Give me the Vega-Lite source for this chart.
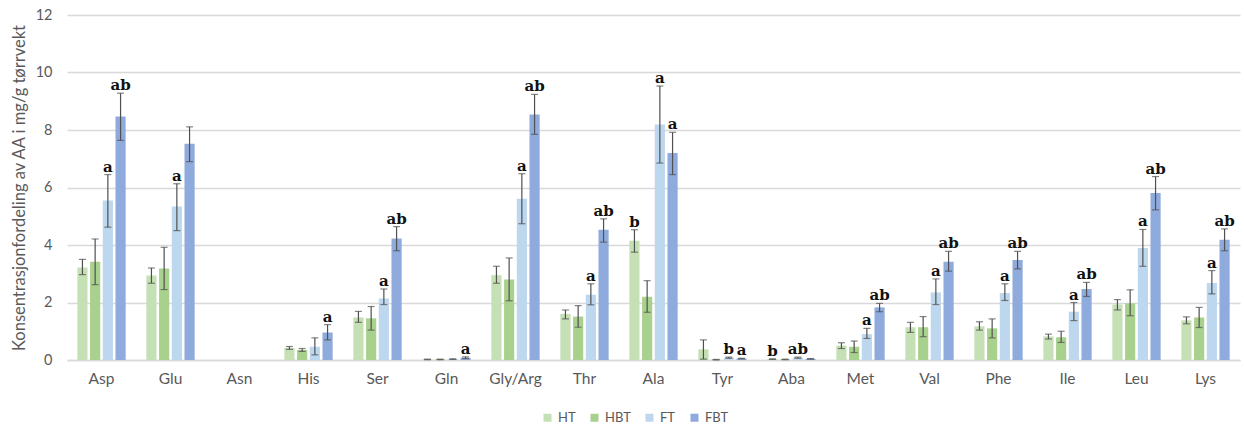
{
  "$schema": "https://vega.github.io/schema/vega-lite/v6.json",
  "width": 1173,
  "height": 345,
  "autosize": {"type": "none"},
  "padding": {"left": 67, "top": 15, "right": 4, "bottom": 65},
  "background": "white",
  "config": {"view": {"stroke": null}, "font": "Lato"},
  "data": {"values": [
    {"aa":"Asp","g":"HT","v":3.22,"lo":2.97,"hi":3.50,"lab":""},
    {"aa":"Asp","g":"HBT","v":3.42,"lo":2.62,"hi":4.21,"lab":""},
    {"aa":"Asp","g":"FT","v":5.55,"lo":4.62,"hi":6.45,"lab":"a"},
    {"aa":"Asp","g":"FBT","v":8.47,"lo":7.64,"hi":9.28,"lab":"ab"},
    {"aa":"Glu","g":"HT","v":2.94,"lo":2.67,"hi":3.20,"lab":""},
    {"aa":"Glu","g":"HBT","v":3.18,"lo":2.45,"hi":3.92,"lab":""},
    {"aa":"Glu","g":"FT","v":5.34,"lo":4.50,"hi":6.13,"lab":"a"},
    {"aa":"Glu","g":"FBT","v":7.52,"lo":6.90,"hi":8.11,"lab":""},
    {"aa":"Asn","g":"HT","v":0,"lo":null,"hi":null,"lab":""},
    {"aa":"Asn","g":"HBT","v":0,"lo":null,"hi":null,"lab":""},
    {"aa":"Asn","g":"FT","v":0,"lo":null,"hi":null,"lab":""},
    {"aa":"Asn","g":"FBT","v":0,"lo":null,"hi":null,"lab":""},
    {"aa":"His","g":"HT","v":0.42,"lo":0.37,"hi":0.47,"lab":""},
    {"aa":"His","g":"HBT","v":0.35,"lo":0.30,"hi":0.40,"lab":""},
    {"aa":"His","g":"FT","v":0.46,"lo":0.18,"hi":0.77,"lab":""},
    {"aa":"His","g":"FBT","v":0.96,"lo":0.70,"hi":1.23,"lab":"a"},
    {"aa":"Ser","g":"HT","v":1.48,"lo":1.31,"hi":1.69,"lab":""},
    {"aa":"Ser","g":"HBT","v":1.45,"lo":1.04,"hi":1.86,"lab":""},
    {"aa":"Ser","g":"FT","v":2.14,"lo":1.93,"hi":2.47,"lab":"a"},
    {"aa":"Ser","g":"FBT","v":4.23,"lo":3.80,"hi":4.64,"lab":"ab"},
    {"aa":"Gln","g":"HT","v":0.02,"lo":0.01,"hi":0.03,"lab":""},
    {"aa":"Gln","g":"HBT","v":0.02,"lo":0.01,"hi":0.03,"lab":""},
    {"aa":"Gln","g":"FT","v":0.03,"lo":0.02,"hi":0.04,"lab":""},
    {"aa":"Gln","g":"FBT","v":0.08,"lo":0.05,"hi":0.11,"lab":"a"},
    {"aa":"Gly/Arg","g":"HT","v":2.95,"lo":2.67,"hi":3.26,"lab":""},
    {"aa":"Gly/Arg","g":"HBT","v":2.80,"lo":2.06,"hi":3.55,"lab":""},
    {"aa":"Gly/Arg","g":"FT","v":5.61,"lo":4.74,"hi":6.48,"lab":"a"},
    {"aa":"Gly/Arg","g":"FBT","v":8.54,"lo":7.85,"hi":9.24,"lab":"ab"},
    {"aa":"Thr","g":"HT","v":1.60,"lo":1.43,"hi":1.74,"lab":""},
    {"aa":"Thr","g":"HBT","v":1.51,"lo":1.14,"hi":1.89,"lab":""},
    {"aa":"Thr","g":"FT","v":2.27,"lo":1.92,"hi":2.65,"lab":"a"},
    {"aa":"Thr","g":"FBT","v":4.53,"lo":4.10,"hi":4.91,"lab":"ab"},
    {"aa":"Ala","g":"HT","v":4.15,"lo":3.75,"hi":4.53,"lab":"b"},
    {"aa":"Ala","g":"HBT","v":2.20,"lo":1.66,"hi":2.76,"lab":""},
    {"aa":"Ala","g":"FT","v":8.19,"lo":6.85,"hi":9.53,"lab":"a"},
    {"aa":"Ala","g":"FBT","v":7.20,"lo":6.45,"hi":7.92,"lab":"a"},
    {"aa":"Tyr","g":"HT","v":0.37,"lo":0.03,"hi":0.70,"lab":""},
    {"aa":"Tyr","g":"HBT","v":0.01,"lo":0.00,"hi":0.02,"lab":""},
    {"aa":"Tyr","g":"FT","v":0.08,"lo":0.06,"hi":0.10,"lab":"b"},
    {"aa":"Tyr","g":"FBT","v":0.05,"lo":0.04,"hi":0.06,"lab":"a"},
    {"aa":"Aba","g":"HT","v":0.03,"lo":0.02,"hi":0.04,"lab":"b"},
    {"aa":"Aba","g":"HBT","v":0.02,"lo":0.01,"hi":0.03,"lab":""},
    {"aa":"Aba","g":"FT","v":0.08,"lo":0.06,"hi":0.10,"lab":"ab"},
    {"aa":"Aba","g":"FBT","v":0.04,"lo":0.03,"hi":0.05,"lab":""},
    {"aa":"Met","g":"HT","v":0.50,"lo":0.40,"hi":0.60,"lab":""},
    {"aa":"Met","g":"HBT","v":0.46,"lo":0.26,"hi":0.66,"lab":""},
    {"aa":"Met","g":"FT","v":0.90,"lo":0.75,"hi":1.10,"lab":"a"},
    {"aa":"Met","g":"FBT","v":1.83,"lo":1.68,"hi":1.97,"lab":"ab"},
    {"aa":"Val","g":"HT","v":1.14,"lo":0.96,"hi":1.31,"lab":""},
    {"aa":"Val","g":"HBT","v":1.14,"lo":0.81,"hi":1.51,"lab":""},
    {"aa":"Val","g":"FT","v":2.35,"lo":1.93,"hi":2.82,"lab":"a"},
    {"aa":"Val","g":"FBT","v":3.42,"lo":3.09,"hi":3.78,"lab":"ab"},
    {"aa":"Phe","g":"HT","v":1.17,"lo":1.04,"hi":1.33,"lab":""},
    {"aa":"Phe","g":"HBT","v":1.10,"lo":0.77,"hi":1.43,"lab":""},
    {"aa":"Phe","g":"FT","v":2.33,"lo":2.07,"hi":2.65,"lab":"a"},
    {"aa":"Phe","g":"FBT","v":3.48,"lo":3.17,"hi":3.78,"lab":"ab"},
    {"aa":"Ile","g":"HT","v":0.82,"lo":0.73,"hi":0.90,"lab":""},
    {"aa":"Ile","g":"HBT","v":0.79,"lo":0.61,"hi":1.00,"lab":""},
    {"aa":"Ile","g":"FT","v":1.68,"lo":1.37,"hi":2.00,"lab":"a"},
    {"aa":"Ile","g":"FBT","v":2.47,"lo":2.21,"hi":2.70,"lab":"ab"},
    {"aa":"Leu","g":"HT","v":1.93,"lo":1.74,"hi":2.10,"lab":""},
    {"aa":"Leu","g":"HBT","v":1.97,"lo":1.54,"hi":2.44,"lab":""},
    {"aa":"Leu","g":"FT","v":3.90,"lo":3.26,"hi":4.54,"lab":"a"},
    {"aa":"Leu","g":"FBT","v":5.81,"lo":5.22,"hi":6.38,"lab":"ab"},
    {"aa":"Lys","g":"HT","v":1.38,"lo":1.26,"hi":1.50,"lab":""},
    {"aa":"Lys","g":"HBT","v":1.48,"lo":1.13,"hi":1.83,"lab":""},
    {"aa":"Lys","g":"FT","v":2.68,"lo":2.30,"hi":3.11,"lab":"a"},
    {"aa":"Lys","g":"FBT","v":4.18,"lo":3.80,"hi":4.56,"lab":"ab"}
  ]},
  "encoding": {
    "x": {
      "field": "aa", "type": "nominal", "sort": null,
      "scale": {"paddingInner": 0.3, "paddingOuter": 0.15},
      "axis": {"title": null, "labelAngle": 0, "ticks": false, "domainColor": "#d9d9d9", "domainWidth": 1.5,
               "labelColor": "#595959", "labelFontSize": 15.5, "labelPadding": 11, "labelFont": "Lato"}
    },
    "xOffset": {"field": "g", "type": "nominal", "sort": ["HT","HBT","FT","FBT"],
                "scale": {"domain": ["HT","HBT","FT","FBT"], "paddingInner": 0.2, "paddingOuter": 0}}
  },
  "layer": [
    {
      "mark": {"type": "bar"},
      "encoding": {
        "y": {"field": "v", "type": "quantitative",
              "scale": {"domain": [0, 12], "nice": false},
              "axis": {"values": [0,2,4,6,8,10,12], "title": "Konsentrasjonfordeling av AA i mg/g tørrvekt",
                       "titleFont": "Lato", "titleFontSize": 16.5, "titleFontWeight": "normal", "titleColor": "#595959",
                       "titlePadding": 8, "grid": true, "gridColor": "#d9d9d9", "gridWidth": 1.5, "domain": false, "ticks": false,
                       "labelColor": "#595959", "labelFontSize": 14.5, "labelPadding": 15, "labelFont": "Lato"}},
        "color": {"field": "g", "type": "nominal",
                  "scale": {"domain": ["HT","HBT","FT","FBT"], "range": ["#c5e0b4","#a9d18e","#bdd7ee","#8faadc"]},
                  "legend": {"title": null, "orient": "none", "direction": "horizontal", "legendX": 474, "legendY": 396,
                             "symbolType": "square", "symbolSize": 64, "symbolStrokeWidth": 0, "labelFontSize": 13,
                             "labelColor": "#595959", "labelFont": "Lato", "columnPadding": 12, "labelOffset": 4}}
      }
    },
    {
      "transform": [{"filter": "datum.hi != null"}],
      "mark": {"type": "rule", "color": "#505050", "strokeWidth": 1.2},
      "encoding": {"y": {"field": "lo", "type": "quantitative"}, "y2": {"field": "hi"}}
    },
    {
      "transform": [{"filter": "datum.hi != null"}],
      "mark": {"type": "tick", "color": "#505050", "orient": "horizontal", "size": 7, "thickness": 1.2},
      "encoding": {"y": {"field": "hi", "type": "quantitative"}}
    },
    {
      "transform": [{"filter": "datum.hi != null"}],
      "mark": {"type": "tick", "color": "#505050", "orient": "horizontal", "size": 7, "thickness": 1.2},
      "encoding": {"y": {"field": "lo", "type": "quantitative"}}
    },
    {
      "transform": [{"filter": "datum.lab != ''"}],
      "mark": {"type": "text", "font": "DejaVu Serif", "fontWeight": "bold", "fontSize": 15, "color": "#111111",
               "baseline": "alphabetic", "dy": -3},
      "encoding": {"y": {"field": "hi", "type": "quantitative"}, "text": {"field": "lab"}}
    }
  ]
}
